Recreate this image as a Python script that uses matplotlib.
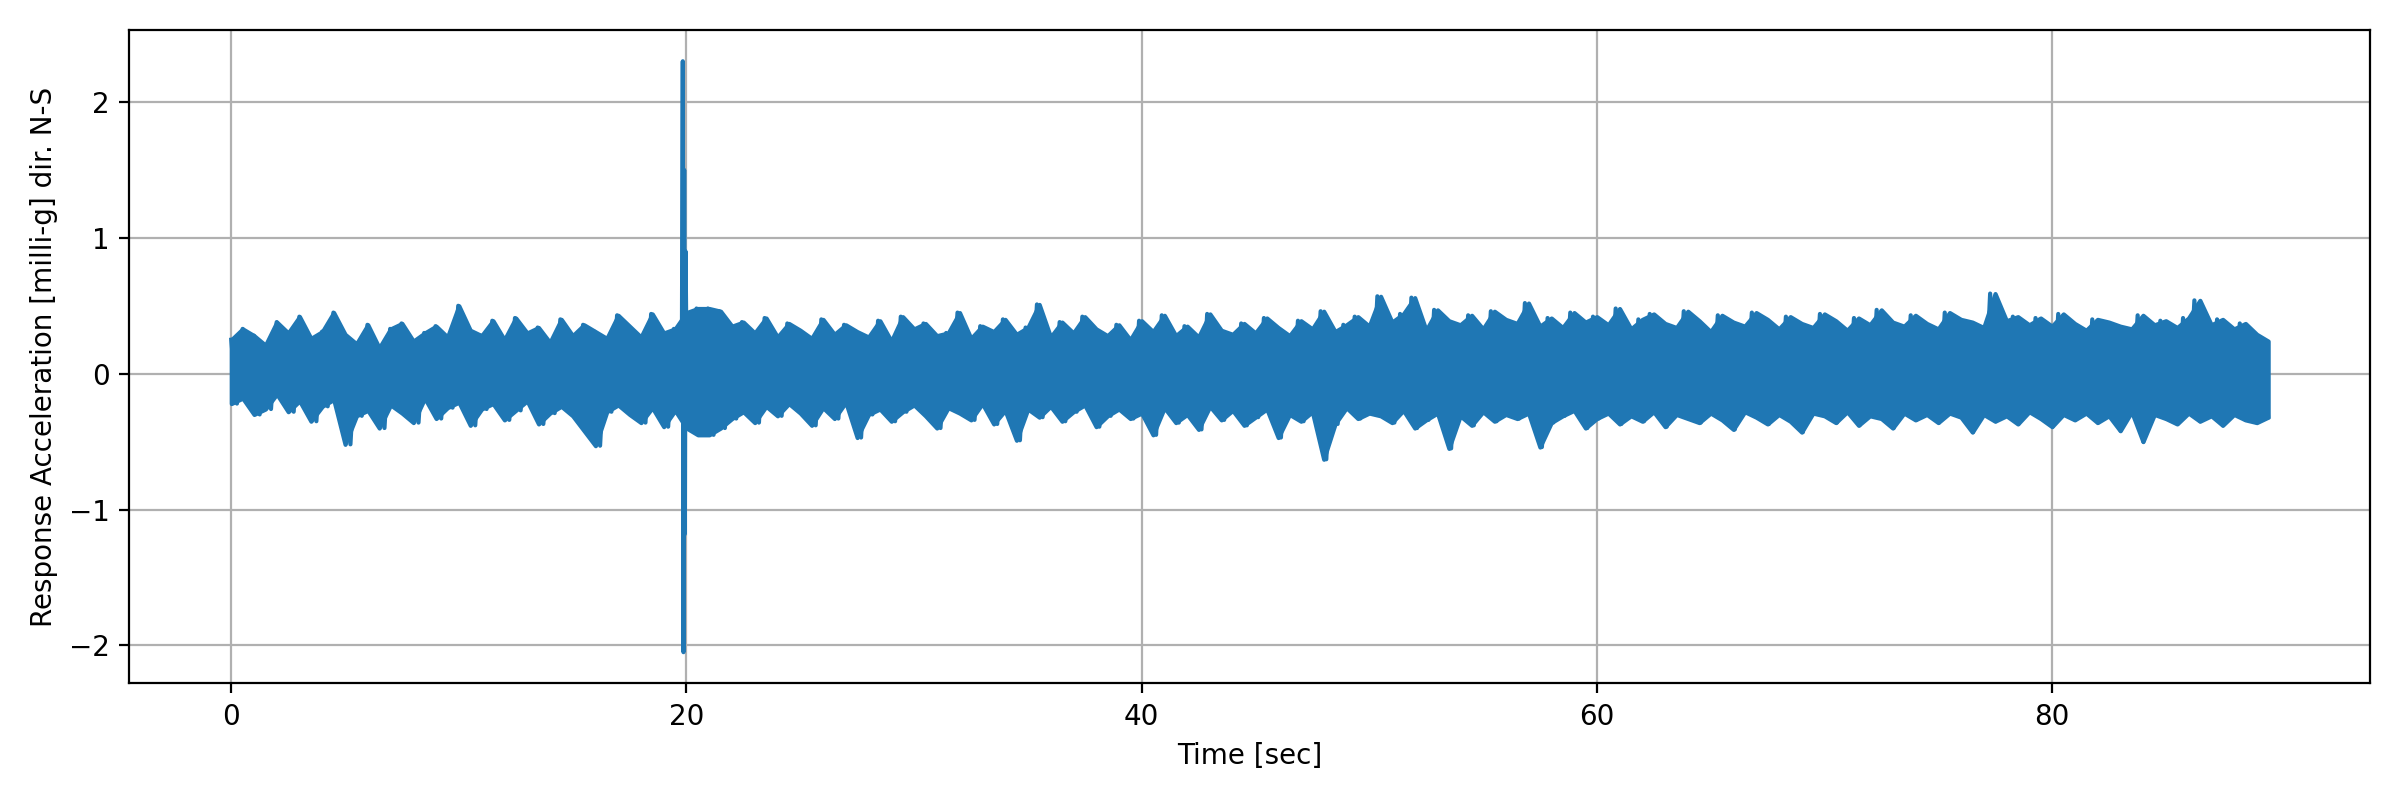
import numpy as np
import matplotlib
matplotlib.use("Agg")
import matplotlib.pyplot as plt

# Alternating upper/lower peaks (envelope of the noisy record)
accel = [
 0.25,-0.22,0.33,-0.18,0.28,-0.30,0.21,-0.26,0.38,-0.15,0.30,-0.28,0.42,-0.20,0.26,-0.35,0.31,-0.24,0.45,-0.19,
 0.29,-0.52,0.22,-0.31,0.36,-0.27,0.19,-0.40,0.33,-0.23,0.37,-0.29,0.24,-0.36,0.30,-0.18,0.35,-0.33,0.27,-0.25,
 0.50,-0.21,0.32,-0.38,0.28,-0.26,0.39,-0.22,0.25,-0.34,0.41,-0.27,0.30,-0.20,0.34,-0.37,0.23,-0.29,0.40,-0.24,
 0.28,-0.31,0.36,-0.42,0.31,-0.53,0.26,-0.28,0.43,-0.23,0.35,-0.30,0.27,-0.36,0.44,-0.25,0.30,-0.39,0.33,-0.27,
 0.45,-0.40,0.48,-0.45,0.48,-0.45,0.46,-0.40,0.35,-0.33,0.38,-0.28,0.30,-0.36,0.41,-0.24,0.27,-0.31,0.37,-0.22,
 0.32,-0.29,0.26,-0.38,0.40,-0.25,0.29,-0.33,0.36,-0.21,0.31,-0.47,0.27,-0.30,0.39,-0.26,0.24,-0.35,0.42,-0.28,
 0.33,-0.23,0.37,-0.31,0.28,-0.40,0.30,-0.25,0.45,-0.29,0.26,-0.34,0.35,-0.22,0.31,-0.37,0.40,-0.27,0.29,-0.49,
 0.34,-0.26,0.51,-0.32,0.27,-0.24,0.38,-0.35,0.30,-0.28,0.42,-0.23,0.33,-0.39,0.28,-0.31,0.36,-0.26,0.25,-0.33,
 0.39,-0.29,0.31,-0.45,0.43,-0.25,0.28,-0.36,0.35,-0.30,0.27,-0.41,0.44,-0.24,0.32,-0.34,0.29,-0.27,0.37,-0.38,
 0.30,-0.32,0.41,-0.26,0.34,-0.47,0.28,-0.30,0.39,-0.35,0.33,-0.28,0.46,-0.63,0.31,-0.37,0.36,-0.25,0.42,-0.33,
 0.35,-0.29,0.57,-0.31,0.38,-0.36,0.44,-0.27,0.56,-0.40,0.32,-0.34,0.47,-0.29,0.39,-0.55,0.36,-0.31,0.43,-0.38,
 0.33,-0.28,0.46,-0.35,0.40,-0.30,0.37,-0.33,0.52,-0.29,0.35,-0.54,0.41,-0.36,0.34,-0.31,0.45,-0.27,0.38,-0.40,
 0.42,-0.33,0.36,-0.29,0.48,-0.37,0.33,-0.31,0.40,-0.35,0.44,-0.28,0.37,-0.39,0.34,-0.30,0.46,-0.33,0.39,-0.36,
 0.31,-0.29,0.43,-0.34,0.38,-0.41,0.35,-0.28,0.45,-0.32,0.40,-0.37,0.33,-0.30,0.42,-0.35,0.37,-0.43,0.34,-0.29,
 0.44,-0.31,0.39,-0.36,0.32,-0.28,0.41,-0.38,0.36,-0.31,0.47,-0.33,0.38,-0.40,0.35,-0.29,0.43,-0.34,0.37,-0.30,
 0.33,-0.36,0.45,-0.29,0.40,-0.32,0.38,-0.43,0.34,-0.30,0.59,-0.35,0.39,-0.31,0.42,-0.37,0.36,-0.28,0.41,-0.33,
 0.35,-0.39,0.44,-0.30,0.37,-0.34,0.32,-0.29,0.40,-0.36,0.38,-0.31,0.35,-0.42,0.33,-0.28,0.43,-0.50,0.36,-0.30,
 0.39,-0.33,0.34,-0.37,0.41,-0.29,0.54,-0.35,0.36,-0.31,0.40,-0.38,0.33,-0.30,0.37,-0.34,0.29,-0.36,0.24,-0.32,
]
# Short impulse near t = 19.9 s
spike_t = [19.80, 19.84, 19.87, 19.90, 19.93, 19.96, 20.00]
spike_v = [0.2, 2.30, -2.05, 1.50, -1.18, 0.9, 0.2]
t_end = 89.5

upper = accel[0::2]
lower = accel[1::2]
t_env = np.linspace(0, t_end, len(upper))

fig, ax = plt.subplots(figsize=(12, 4), dpi=200)
c = "#1f77b4"
ax.fill_between(t_env, lower, upper, color=c, edgecolor=c, linewidth=1.5, zorder=2)
ax.plot(np.linspace(0, t_end, len(accel)), accel, color=c, linewidth=1.5, zorder=2)
ax.plot(spike_t, spike_v, color=c, linewidth=1.5, zorder=2)
ax.set_xlabel("Time [sec]")
ax.set_ylabel("Response Acceleration [milli-g] dir. N-S")
ax.grid(True)
ax.set_axisbelow(True)
ax.set_ylim(-2.28, 2.53)
fig.tight_layout()
fig.savefig("out.png")
